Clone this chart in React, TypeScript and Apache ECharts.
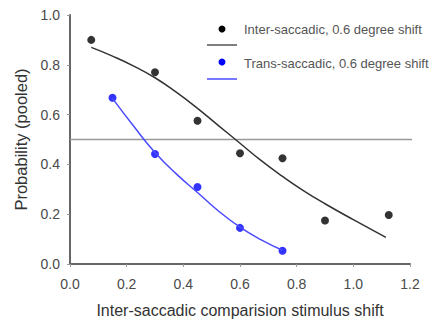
import React, { useEffect, useRef } from "react";
import * as echarts from "echarts";

const xTicks = [0, 0.2, 0.4, 0.6, 0.8, 1.0, 1.2];
const interX = [0.075, 0.3, 0.45, 0.6, 0.75, 0.9, 1.125];
const interY = [0.9, 0.77, 0.575, 0.445, 0.425, 0.175, 0.197];
const transX = [0.15, 0.3, 0.45, 0.6, 0.75];
const transY = [0.668, 0.442, 0.309, 0.145, 0.053];
const interFitX = [0.075, 0.15, 0.225, 0.3, 0.375, 0.45, 0.525, 0.6, 0.675, 0.75, 0.825, 0.9, 1.0, 1.115];
const interFitY = [0.87, 0.835, 0.795, 0.748, 0.69, 0.625, 0.555, 0.485, 0.415, 0.352, 0.294, 0.242, 0.178, 0.107];
const transFitX = [0.15, 0.225, 0.3, 0.375, 0.45, 0.525, 0.6, 0.675, 0.75];
const transFitY = [0.665, 0.553, 0.448, 0.362, 0.287, 0.212, 0.148, 0.097, 0.055];
const refLine = [[0, 0.5], [1.215, 0.5]];
const legendLabels = ["Inter-saccadic, 0.6 degree shift", "Trans-saccadic, 0.6 degree shift"];

const zip = (a: number[], b: number[]) => a.map((v, i) => [v, b[i]]);

export default function App() {
  const ref = useRef<HTMLDivElement>(null);
  useEffect(() => {
    const chart = echarts.init(ref.current!, null, { renderer: "svg" });
    const font = "Liberation Sans, Arial, sans-serif";
    const axisCommon = {
      axisLine: { show: true, lineStyle: { color: "#666", width: 2 } },
      axisTick: { show: true, inside: false, length: 3, lineStyle: { color: "#999" } },
      splitLine: { show: false },
      axisLabel: {
        color: "#4a4a4a",
        fontSize: 14,
        fontFamily: font,
        formatter: (v: number) => v.toFixed(1),
      },
      nameTextStyle: { color: "#333", fontSize: 16, fontFamily: font },
    };
    chart.setOption({
      animation: false,
      grid: { left: 70, right: 25, top: 15, bottom: 59, containLabel: false },
      xAxis: {
        type: "value",
        min: xTicks[0],
        max: xTicks[xTicks.length - 1],
        interval: 0.2,
        name: "Inter-saccadic comparision stimulus shift",
        nameLocation: "middle",
        nameGap: 38,
        ...axisCommon,
        axisLabel: { ...axisCommon.axisLabel, margin: 13 },
      },
      yAxis: {
        type: "value",
        min: 0,
        max: 1.0,
        interval: 0.2,
        name: "Probability (pooled)",
        nameLocation: "middle",
        nameGap: 40,
        ...axisCommon,
        nameTextStyle: { ...axisCommon.nameTextStyle, fontSize: 16.5 },
        axisLabel: { ...axisCommon.axisLabel, margin: 10 },
      },
      series: [
        {
          type: "line",
          data: refLine,
          symbol: "none",
          clip: false,
          lineStyle: { color: "#999", width: 1.3 },
          silent: true,
        },
        {
          type: "line",
          data: zip(interFitX, interFitY),
          smooth: true,
          symbol: "none",
          lineStyle: { color: "#333", width: 1.5 },
        },
        {
          type: "line",
          data: zip(transFitX, transFitY),
          smooth: true,
          symbol: "none",
          lineStyle: { color: "#4a4aff", width: 1.5 },
        },
        {
          type: "scatter",
          data: zip(interX, interY),
          symbolSize: 8,
          itemStyle: { color: "#000" },
        },
        {
          type: "scatter",
          data: zip(transX, transY),
          symbolSize: 8,
          itemStyle: { color: "#0000ff" },
        },
      ],
      graphic: [
        { type: "circle", shape: { cx: 222, cy: 29, r: 3.5 }, style: { fill: "#000" } },
        {
          type: "text",
          x: 244,
          y: 29,
          style: { text: legendLabels[0], fill: "#555", fontSize: 13, fontFamily: font, verticalAlign: "middle" },
        },
        { type: "line", shape: { x1: 207, y1: 45, x2: 237, y2: 45 }, style: { stroke: "#555", lineWidth: 1.5 } },
        { type: "circle", shape: { cx: 222, cy: 62, r: 3.5 }, style: { fill: "#0000ff" } },
        {
          type: "text",
          x: 244,
          y: 63,
          style: { text: legendLabels[1], fill: "#555", fontSize: 13, fontFamily: font, verticalAlign: "middle" },
        },
        { type: "line", shape: { x1: 207, y1: 79, x2: 237, y2: 79 }, style: { stroke: "#4a4aff", lineWidth: 1.5 } },
      ],
    });
    return () => chart.dispose();
  }, []);
  return <div ref={ref} style={{ width: 435, height: 323, position: "absolute", left: 0, top: 0 }} />;
}
